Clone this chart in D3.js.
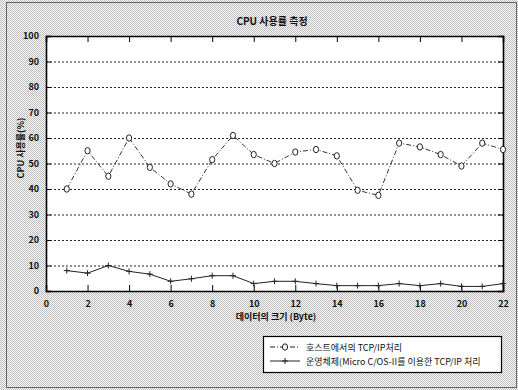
<!DOCTYPE html>
<html>
<head>
<meta charset="utf-8">
<script src="https://cdn.jsdelivr.net/npm/d3@7"></script>
<style>
  body { margin: 0; background: #fff; }
  text { font-family: "Noto Sans CJK KR", "Noto Sans", sans-serif; fill: #111; }
</style>
</head>
<body>
<svg id="chart" width="518" height="390"></svg>
<script>
// data size (x) and CPU usage in percent
const sizes = d3.range(1, 23);
const hostCpu = [40, 55, 45, 60, 48.5, 42, 38, 51.5, 61, 53.5, 50, 54.5, 55.5, 53, 39.5, 37.5, 58, 56.5, 53.5, 49, 58, 55.5];
const rtosCpu = [8, 7, 10, 7.7, 6.6, 3.8, 4.8, 6, 6, 2.9, 3.8, 3.8, 2.9, 2.1, 2.1, 2.1, 2.9, 2.1, 2.9, 1.8, 1.8, 2.9];
const xTicks = d3.range(0, 23, 2);
const yTicks = d3.range(0, 101, 10);
const seriesNames = ["호스트에서의 TCP/IP처리", "운영체제(Micro C/OS-II를 이용한 TCP/IP 처리"];

const svg = d3.select("#chart");
const plotL = 46, plotR = 503, plotT = 36, plotB = 291;

// dithered grey background like the scan
const defs = svg.append("defs");
const pat = defs.append("pattern").attr("id", "dither")
  .attr("width", 2).attr("height", 2).attr("patternUnits", "userSpaceOnUse");
pat.append("rect").attr("width", 2).attr("height", 2).attr("fill", "#fbfbfb");
pat.append("rect").attr("x", 0).attr("y", 0).attr("width", 1).attr("height", 1).attr("fill", "#bdbdbd");
pat.append("rect").attr("x", 1).attr("y", 1).attr("width", 1).attr("height", 1).attr("fill", "#bdbdbd");

svg.append("rect").attr("width", 518).attr("height", 390).attr("fill", "url(#dither)");
svg.append("rect").attr("x", 6.5).attr("y", 2.5).attr("width", 510).attr("height", 385)
  .attr("fill", "none").attr("stroke", "#666");

const x = d3.scaleLinear().domain([0, 22]).range([plotL, plotR]);
const y = d3.scaleLinear().domain([0, 100]).range([plotB, plotT]);

// plot area
svg.append("rect").attr("x", plotL).attr("y", plotT)
  .attr("width", plotR - plotL).attr("height", plotB - plotT).attr("fill", "#fff");

// dotted gridlines
svg.append("g").selectAll("line")
  .data(yTicks.filter(d => d > 0 && d < 100))
  .enter().append("line")
    .attr("x1", plotL).attr("x2", plotR)
    .attr("y1", d => y(d) + 0.5).attr("y2", d => y(d) + 0.5)
    .attr("stroke", "#222").attr("stroke-width", 1)
    .attr("stroke-dasharray", "2,2");

// axes, ticks pointing inward (matlab style)
const fmt = d3.format("d");
const gx = svg.append("g").attr("transform", "translate(0," + plotB + ")")
  .call(d3.axisBottom(x).tickValues(xTicks).tickSize(-6).tickPadding(10).tickFormat(fmt));
const gxTop = svg.append("g").attr("transform", "translate(0," + plotT + ")")
  .call(d3.axisTop(x).tickValues(xTicks).tickSize(-6).tickFormat(""));
const gy = svg.append("g").attr("transform", "translate(" + plotL + ",0)")
  .call(d3.axisLeft(y).tickValues(yTicks).tickSize(-5).tickPadding(7).tickFormat(fmt));
const gyRight = svg.append("g").attr("transform", "translate(" + plotR + ",0)")
  .call(d3.axisRight(y).tickValues(yTicks).tickSize(-5).tickFormat(""));

[gx, gxTop, gy, gyRight].forEach(function(g) {
  g.select(".domain").attr("stroke", "#000").attr("stroke-width", 1.6);
  g.selectAll(".tick line").attr("stroke", "#000");
  g.selectAll("text").style("font-size", "9px").style("font-weight", "bold")
    .attr("fill", "#111");
});

// host series: dash-dot with circle markers
const line = d3.line().x((d, i) => x(sizes[i])).y(d => y(d));

svg.append("path").datum(hostCpu)
  .attr("d", line).attr("fill", "none")
  .attr("stroke", "#333").attr("stroke-width", 1)
  .attr("stroke-dasharray", "5,2,1,2");

svg.append("g").selectAll("ellipse").data(hostCpu)
  .enter().append("ellipse")
    .attr("cx", (d, i) => x(sizes[i])).attr("cy", d => y(d))
    .attr("rx", 2.6).attr("ry", 3.2)
    .attr("fill", "#fff").attr("stroke", "#222").attr("stroke-width", 1);

// rtos series: solid with plus markers
svg.append("path").datum(rtosCpu)
  .attr("d", line).attr("fill", "none")
  .attr("stroke", "#222").attr("stroke-width", 1);

function plusPath(cx, cy, r) {
  return "M" + (cx - r) + "," + cy + "H" + (cx + r) + "M" + cx + "," + (cy - r) + "V" + (cy + r);
}

svg.append("g").selectAll("path").data(rtosCpu)
  .enter().append("path")
    .attr("d", (d, i) => plusPath(x(sizes[i]), y(d), 3))
    .attr("stroke", "#222").attr("stroke-width", 1);

// titles
svg.append("text").attr("x", 272).attr("y", 25).attr("text-anchor", "middle")
  .style("font-size", "10px").style("font-weight", "bold").text("CPU 사용률 측정");

svg.append("text").attr("transform", "translate(24,148) rotate(-90)")
  .attr("text-anchor", "middle").style("font-size", "9px").style("font-weight", "bold")
  .text("CPU 사용률(%)");

svg.append("text").attr("x", 276).attr("y", 320).attr("text-anchor", "middle")
  .style("font-size", "9px").style("font-weight", "bold").text("데이터의 크기 (Byte)");

// legend
const lg = svg.append("g");
lg.append("rect").attr("x", 263.5).attr("y", 336.5).attr("width", 238).attr("height", 36)
  .attr("fill", "#fff").attr("stroke", "#000").attr("stroke-width", 1.2);

const legendRows = [347, 361];
legendRows.forEach(function(ry, i) {
  lg.append("line").attr("x1", 270).attr("x2", 300).attr("y1", ry).attr("y2", ry)
    .attr("stroke", "#222").attr("stroke-dasharray", i === 0 ? "5,2,1,2" : null);
  if (i === 0) {
    lg.append("ellipse").attr("cx", 285).attr("cy", ry).attr("rx", 2.6).attr("ry", 3.2)
      .attr("fill", "#fff").attr("stroke", "#222");
  } else {
    lg.append("path").attr("d", plusPath(285, ry, 3)).attr("stroke", "#222");
  }
  lg.append("text").attr("x", 306).attr("y", ry + 3.5)
    .style("font-size", "9px").text(seriesNames[i]);
});
</script>
</body>
</html>
